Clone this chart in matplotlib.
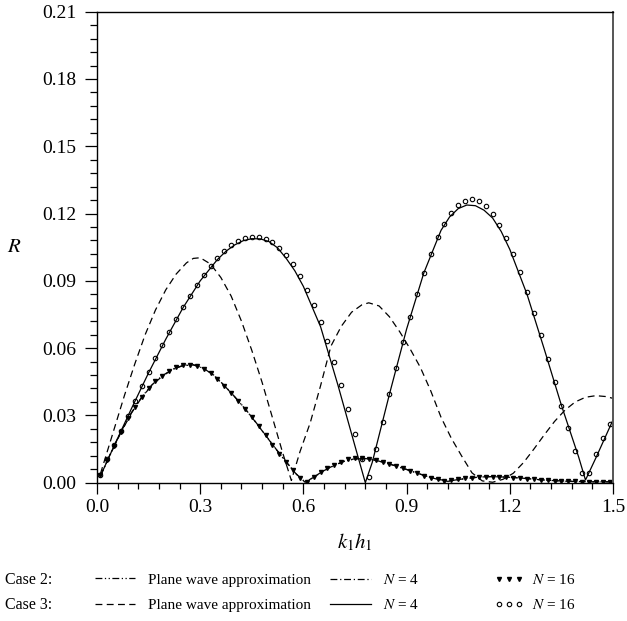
import numpy as np
import matplotlib
matplotlib.use('Agg')
import matplotlib.pyplot as plt
from matplotlib.lines import Line2D

plt.rcParams['font.family'] = 'Liberation Serif'
plt.rcParams['mathtext.fontset'] = 'stix'

# case 3, N = 16 (circles) and case 2, N = 16 (triangles) share the same k1h1 samples
x16 = [0.01, 0.03, 0.05, 0.07, 0.09, 0.11, 0.13, 0.15, 0.17, 0.19,
       0.21, 0.23, 0.25, 0.27, 0.29, 0.31, 0.33, 0.35, 0.37, 0.39,
       0.41, 0.43, 0.45, 0.47, 0.49, 0.51, 0.53, 0.55, 0.57, 0.59,
       0.61, 0.63, 0.65, 0.67, 0.69, 0.71, 0.73, 0.75, 0.77, 0.79,
       0.81, 0.83, 0.85, 0.87, 0.89, 0.91, 0.93, 0.95, 0.97, 0.99,
       1.01, 1.03, 1.05, 1.07, 1.09, 1.11, 1.13, 1.15, 1.17, 1.19,
       1.21, 1.23, 1.25, 1.27, 1.29, 1.31, 1.33, 1.35, 1.37, 1.39,
       1.41, 1.43, 1.45, 1.47, 1.49]
r3_n16 = [0.0034, 0.0104, 0.0168, 0.0232, 0.0297, 0.0366, 0.0431, 0.0493, 0.0554, 0.0614,
          0.0673, 0.0728, 0.0782, 0.0834, 0.0881, 0.0926, 0.0966, 0.1000, 0.1033, 0.1060,
          0.1079, 0.1091, 0.1097, 0.1097, 0.1088, 0.1071, 0.1046, 0.1016, 0.0973, 0.0921,
          0.0860, 0.0792, 0.0716, 0.0630, 0.0536, 0.0437, 0.0328, 0.0217, 0.0104, 0.0027,
          0.0149, 0.0270, 0.0394, 0.0513, 0.0629, 0.0737, 0.0841, 0.0935, 0.1019, 0.1094,
          0.1153, 0.1201, 0.1236, 0.1257, 0.1263, 0.1257, 0.1233, 0.1198, 0.1149, 0.1091,
          0.1018, 0.0938, 0.0849, 0.0755, 0.0658, 0.0551, 0.0449, 0.0342, 0.0242, 0.0141,
          0.0045, 0.0045, 0.0126, 0.0198, 0.0262]
r2_n16 = [0.0034, 0.0101, 0.0165, 0.0228, 0.0288, 0.0338, 0.0382, 0.0421, 0.0452, 0.0477,
          0.0498, 0.0514, 0.0524, 0.0526, 0.0520, 0.0507, 0.0488, 0.0463, 0.0433, 0.0400,
          0.0366, 0.0330, 0.0292, 0.0252, 0.0211, 0.0170, 0.0130, 0.0092, 0.0056, 0.0022,
          0.0005, 0.0027, 0.0047, 0.0064, 0.0078, 0.0093, 0.0104, 0.0108, 0.0109, 0.0106,
          0.0101, 0.0092, 0.0083, 0.0074, 0.0065, 0.0054, 0.0043, 0.0032, 0.0023, 0.0015,
          0.0008, 0.0010, 0.0015, 0.0019, 0.0022, 0.0026, 0.0027, 0.0027, 0.0026, 0.0025,
          0.0023, 0.0021, 0.0018, 0.0015, 0.0012, 0.0010, 0.0009, 0.0007, 0.0007, 0.0006,
          0.0005, 0.0004, 0.0004, 0.0004, 0.0004]

# case 3, N = 4 (solid)
x3_n4 = [0.01, 0.05, 0.10, 0.15, 0.20, 0.25, 0.30, 0.35, 0.375, 0.40, 0.425, 0.45,
         0.475, 0.50, 0.525, 0.55, 0.575, 0.60, 0.65, 0.70, 0.75, 0.78, 0.80, 0.85,
         0.90, 0.95, 1.00, 1.025, 1.05, 1.075, 1.10, 1.125, 1.15, 1.175, 1.20, 1.25,
         1.30, 1.35, 1.40, 1.42, 1.45, 1.50]
r3_n4 = [0.0030, 0.0165, 0.0330, 0.0490, 0.0640, 0.0780, 0.0900, 0.0995, 0.1032, 0.1060, 0.1079, 0.1088,
         0.1087, 0.1075, 0.1047, 0.1000, 0.0945, 0.0875, 0.0695, 0.0437, 0.0163, 0.0000, 0.0090, 0.0394,
         0.0685, 0.0935, 0.1125, 0.1185, 0.1222, 0.1238, 0.1235, 0.1215, 0.1180, 0.1120, 0.1040, 0.0840,
         0.0596, 0.0345, 0.0115, 0.0012, 0.0110, 0.0280]

# case 3, plane wave approximation (dashed)
x3_pw = [0.01, 0.03, 0.05, 0.08, 0.11, 0.14, 0.17, 0.20, 0.23, 0.26, 0.28, 0.30, 0.33,
         0.36, 0.39, 0.42, 0.45, 0.48, 0.51, 0.54, 0.565, 0.59, 0.62, 0.65, 0.68, 0.71,
         0.74, 0.77, 0.79, 0.82, 0.85, 0.88, 0.91, 0.94, 0.97, 1.00, 1.03, 1.06, 1.09,
         1.12, 1.15, 1.18, 1.21, 1.24, 1.27, 1.30, 1.33, 1.36, 1.39, 1.42, 1.45, 1.48, 1.50]
r3_pw = [0.0040, 0.0140, 0.0240, 0.0390, 0.0530, 0.0660, 0.0770, 0.0860, 0.0930, 0.0980, 0.1000, 0.1003, 0.0975,
         0.0915, 0.0832, 0.0720, 0.0590, 0.0447, 0.0290, 0.0132, 0.0010, 0.0138, 0.0268, 0.0433, 0.0609, 0.0697,
         0.0760, 0.0793, 0.0802, 0.0788, 0.0740, 0.0673, 0.0597, 0.0514, 0.0410, 0.0292, 0.0198, 0.0119, 0.0044,
         0.0008, 0.0002, 0.0015, 0.0042, 0.0090, 0.0150, 0.0213, 0.0273, 0.0323, 0.0360, 0.0381, 0.0388, 0.0384, 0.0376]

# case 2, N = 4 (dash-dot) and plane wave approximation (dash-dot-dot)
x2 = [0.01, 0.04, 0.07, 0.10, 0.13, 0.16, 0.19, 0.22, 0.25, 0.28, 0.31, 0.34, 0.37,
      0.40, 0.43, 0.46, 0.49, 0.52, 0.55, 0.58, 0.605, 0.63, 0.66, 0.69, 0.72, 0.75,
      0.78, 0.81, 0.84, 0.87, 0.90, 0.93, 0.96, 0.99, 1.02, 1.05, 1.08, 1.11, 1.14,
      1.17, 1.20, 1.23, 1.26, 1.29, 1.32, 1.35, 1.38, 1.41, 1.44, 1.47, 1.50]
r2_n4 = [0.0030, 0.0130, 0.0225, 0.0310, 0.0380, 0.0435, 0.0475, 0.0505, 0.0522, 0.0525, 0.0510, 0.0478, 0.0433,
         0.0383, 0.0330, 0.0272, 0.0211, 0.0150, 0.0092, 0.0037, 0.0002, 0.0025, 0.0055, 0.0078, 0.0097, 0.0107,
         0.0108, 0.0100, 0.0088, 0.0074, 0.0059, 0.0043, 0.0028, 0.0015, 0.0006, 0.0014, 0.0020, 0.0025, 0.0027,
         0.0026, 0.0024, 0.0021, 0.0017, 0.0013, 0.0010, 0.0007, 0.0006, 0.0005, 0.0004, 0.0004, 0.0004]
r2_pw = [0.0032, 0.0133, 0.0228, 0.0312, 0.0382, 0.0437, 0.0477, 0.0506, 0.0523, 0.0526, 0.0511, 0.0479, 0.0434,
         0.0384, 0.0331, 0.0273, 0.0212, 0.0151, 0.0093, 0.0038, 0.0003, 0.0024, 0.0054, 0.0077, 0.0096, 0.0106,
         0.0107, 0.0100, 0.0088, 0.0074, 0.0059, 0.0043, 0.0028, 0.0016, 0.0007, 0.0014, 0.0020, 0.0025, 0.0027,
         0.0026, 0.0024, 0.0021, 0.0017, 0.0013, 0.0010, 0.0008, 0.0006, 0.0005, 0.0004, 0.0004, 0.0004]

fig = plt.figure(figsize=(6.27, 6.21), dpi=100)
ax = fig.add_axes([0.1547, 0.2227, 0.8230, 0.7585])

lw = 0.9
dash_pw3 = (0, (5.5, 3.5))
dash_n4_2 = (0, (5.5, 2.2, 1.0, 2.2))
dash_pw2 = (0, (5.5, 2.0, 1.0, 2.0, 1.0, 2.0))
tri = dict(linestyle='none', marker='v', ms=2.9, color='black')
circ = dict(linestyle='none', marker='o', ms=3.2, mfc='none', mec='black', mew=0.8)

ax.plot(x3_pw, r3_pw, color='black', lw=lw, linestyle=dash_pw3)
ax.plot(x2, r2_pw, color='black', lw=lw, linestyle=dash_pw2)
ax.plot(x2, r2_n4, color='black', lw=lw, linestyle=dash_n4_2)
ax.plot(x3_n4, r3_n4, color='black', lw=lw)
ax.plot(x16, r2_n16, **tri)
ax.plot(x16, r3_n16, **circ)

ax.set_xlim(0, 1.5)
ax.set_ylim(0, 0.21)
ax.set_xticks([0.0, 0.3, 0.6, 0.9, 1.2, 1.5])
ax.set_xticks(np.arange(0, 1.5001, 0.06), minor=True)
ax.set_yticks([0.0, 0.03, 0.06, 0.09, 0.12, 0.15, 0.18, 0.21])
ax.set_yticks(np.arange(0, 0.21001, 0.006), minor=True)
ax.xaxis.set_major_formatter(matplotlib.ticker.FormatStrFormatter('%.1f'))
ax.yaxis.set_major_formatter(matplotlib.ticker.FormatStrFormatter('%.2f'))
ax.tick_params(axis='both', which='major', labelsize=14, width=0.9, direction='out')
ax.tick_params(axis='x', which='major', length=8, pad=4)
ax.tick_params(axis='x', which='minor', length=4.3, width=0.9)
ax.tick_params(axis='y', which='major', length=8.6, pad=6)
ax.tick_params(axis='y', which='minor', length=5, width=0.9)
for s in ['left', 'bottom', 'top']:
    ax.spines[s].set_linewidth(1.0)
ax.spines['right'].set_color('#555555')
ax.spines['right'].set_linewidth(1.4)

ax.set_xlabel(r'$k_1h_1$', fontsize=15, labelpad=11)
ax.set_ylabel(r'$R$', fontsize=15, rotation=0, labelpad=20, va='center')

# legend rows below the plot
fs = 11
h_pw2 = Line2D([], [], color='black', lw=lw, linestyle=dash_pw2)
h_pw3 = Line2D([], [], color='black', lw=lw, linestyle=dash_pw3)
h_n42 = Line2D([], [], color='black', lw=lw, linestyle=dash_n4_2)
h_n43 = Line2D([], [], color='black', lw=lw)
h_162 = Line2D([], [], **tri)
h_163 = Line2D([], [], **circ)

top = 1 - 573 / 621
common = dict(loc='upper left', frameon=False, fontsize=fs, borderpad=0,
              borderaxespad=0, labelspacing=0.75, handleheight=0.7)
fig.legend([h_pw2, h_pw3], ['Plane wave approximation'] * 2,
           bbox_to_anchor=(95 / 627, top), handlelength=2.62,
           handletextpad=0.85, **common)
fig.legend([h_n42, h_n43], [r'$N$ = 4'] * 2,
           bbox_to_anchor=(330 / 627, top), handlelength=2.7,
           handletextpad=0.75, **common)
fig.legend([h_162, h_163], [r'$N$ = 16'] * 2, numpoints=3,
           bbox_to_anchor=(494 / 627, top), handlelength=1.91,
           handletextpad=0.55, **common)
fig.text(5 / 627, 1 - 580 / 621, 'Case 2:', fontsize=fs + 0.5, va='center', ha='left')
fig.text(5 / 627, 1 - 605 / 621, 'Case 3:', fontsize=fs + 0.5, va='center', ha='left')

fig.savefig('out.png', dpi=100)
